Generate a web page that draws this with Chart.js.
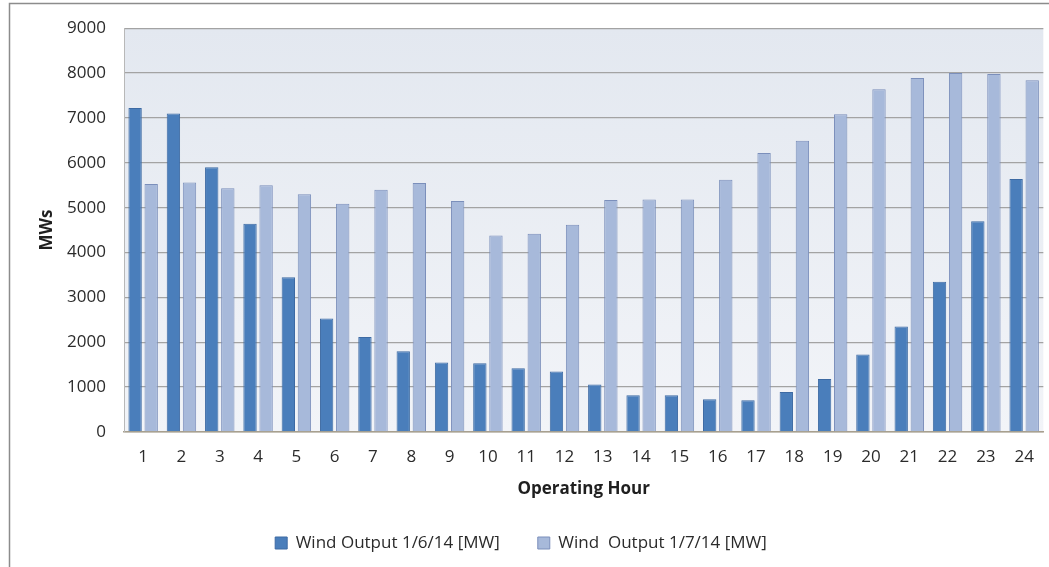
<!DOCTYPE html>
<html>
<head>
<meta charset="utf-8">
<script src="https://cdn.jsdelivr.net/npm/chart.js@4"></script>
<style>
  html, body { margin: 0; padding: 0; background: #ffffff; }
  #wrap { width: 1049px; height: 567px; position: relative; }
</style>
</head>
<body>
<div id="wrap"><canvas id="windChart"></canvas></div>
<script>
// hours on the x axis
const hours = ['1', '2', '3', '4', '5', '6', '7', '8', '9', '10', '11', '12',
               '13', '14', '15', '16', '17', '18', '19', '20', '21', '22', '23', '24'];

// MW values
const wind0106 = [7220, 7100, 5900, 4640, 3450, 2530, 2120, 1800, 1550, 1530, 1420, 1350,
                  1060, 820, 820, 730, 710, 890, 1180, 1730, 2350, 3350, 4700, 5640];
const wind0107 = [5530, 5560, 5430, 5500, 5300, 5090, 5400, 5550, 5150, 4380, 4420, 4620,
                  5170, 5180, 5180, 5620, 6220, 6490, 7080, 7640, 7890, 8000, 7980, 7840];

const yTicks = [0, 1000, 2000, 3000, 4000, 5000, 6000, 7000, 8000, 9000];

const fontFamily = '"Open Sans", Arial, sans-serif';

// plot background + outer frame like the Excel export
const backdrop = {
    id: 'backdrop',
    afterLayout(chart) {
        // legend sits a little left of centre in the original
        chart.legend.left -= 18;
        chart.legend.right -= 18;
    },
    beforeDraw(chart) {
        const ctx = chart.ctx;
        const a = chart.chartArea;
        ctx.save();
        ctx.strokeStyle = '#8c8c8c';
        ctx.lineWidth = 1.5;
        ctx.strokeRect(9.5, 3.5, 1100, 600);
        const g = ctx.createLinearGradient(0, a.top, 0, a.bottom);
        g.addColorStop(0, '#e3e8f0');
        g.addColorStop(1, '#f2f4f8');
        ctx.fillStyle = g;
        ctx.fillRect(a.left, a.top, a.right - a.left, a.bottom - a.top);
        ctx.restore();
    }
};

document.addEventListener('DOMContentLoaded', function() {
    const ctx = document.getElementById('windChart').getContext('2d');

    new Chart(ctx, {
        type: 'bar',
        data: {
            labels: hours,
            datasets: [{
                label: 'Wind Output 1/6/14 [MW]',
                data: wind0106,
                backgroundColor: '#4a7ebb',
                borderColor: '#3d6aa3',
                borderWidth: 1
            }, {
                label: 'Wind  Output 1/7/14 [MW]',
                data: wind0107,
                backgroundColor: '#a7b9da',
                borderColor: '#7b8fbb',
                borderWidth: 1
            }]
        },
        options: {
            responsive: true,
            maintainAspectRatio: false,
            animation: false,
            categoryPercentage: 0.84,
            barPercentage: 0.83,
            layout: {
                padding: { left: 34, right: 5, top: 27, bottom: 5.5 }
            },
            scales: {
                x: {
                    grid: { display: false, drawTicks: false },
                    border: { color: '#a8a08e', width: 1.5 },
                    ticks: {
                        color: '#2b2b2b',
                        padding: 15,
                        font: { family: fontFamily, size: 17 }
                    },
                    title: {
                        display: true,
                        text: 'Operating Hour',
                        color: '#1f1f1f',
                        padding: { top: 0, bottom: -2.5 },
                        font: { family: fontFamily, size: 17, weight: 'bold' }
                    },
                    afterFit(scale) { scale.height = 64.5; }
                },
                y: {
                    min: 0,
                    max: 9000,
                    afterBuildTicks(scale) {
                        scale.ticks = yTicks.map(v => ({ value: v }));
                    },
                    grid: { color: '#a3a3a3', lineWidth: 1.3, drawTicks: false },
                    border: { color: '#b8b8b8', width: 1 },
                    ticks: {
                        color: '#2b2b2b',
                        padding: 18,
                        font: { family: fontFamily, size: 17 },
                        callback: v => String(v)
                    },
                    title: {
                        display: true,
                        text: 'MWs',
                        color: '#1f1f1f',
                        padding: { top: 3, bottom: 4 },
                        font: { family: fontFamily, size: 17, weight: 'bold' }
                    },
                    afterFit(scale) { scale.width = 90; }
                }
            },
            plugins: {
                legend: {
                    display: true,
                    position: 'bottom',
                    labels: {
                        color: '#2b2b2b',
                        boxWidth: 12,
                        boxHeight: 12,
                        padding: 38,
                        font: { family: fontFamily, size: 17 }
                    }
                },
                title: { display: false },
                tooltip: { enabled: false }
            }
        },
        plugins: [backdrop]
    });
});
</script>
</body>
</html>
